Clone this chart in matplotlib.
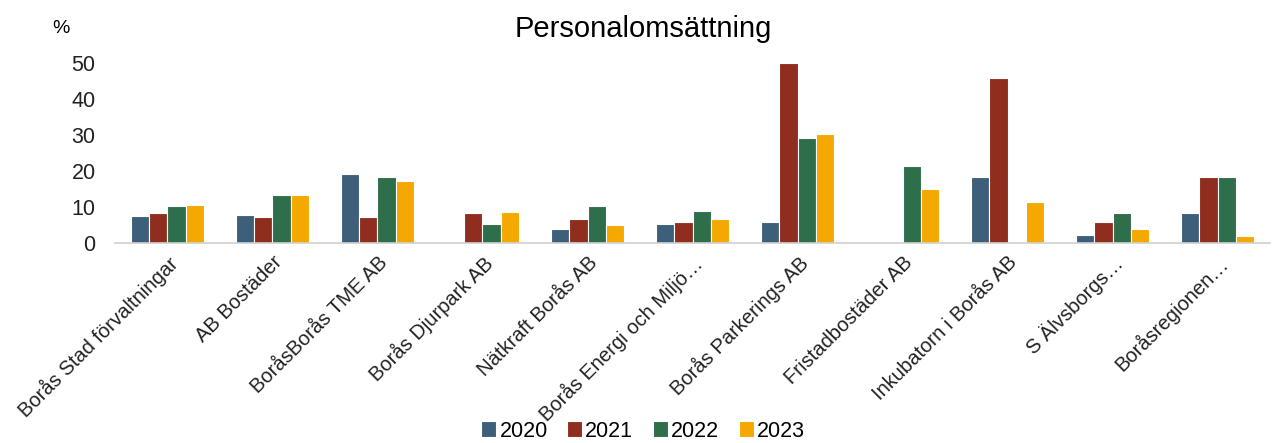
import numpy as np
import matplotlib.pyplot as plt

plt.rcParams['font.family'] = ['Liberation Sans', 'DejaVu Sans']

categories = [
    "Borås Stad förvaltningar", "AB Bostäder", "BoråsBorås TME AB",
    "Borås Djurpark AB", "Nätkraft Borås AB", "Borås Energi och Miljö…",
    "Borås Parkerings AB", "Fristadbostäder AB", "Inkubatorn i Borås AB",
    "S Älvsborgs…", "Boråsregionen…",
]
years = ["2020", "2021", "2022", "2023"]
v2020 = [7.4, 7.9, 19.2, 0, 3.9, 5.4, 5.9, 0, 18.2, 2.3, 8.2]
v2021 = [8.3, 7.1, 7.1, 8.2, 6.6, 5.9, 50.0, 0, 45.8, 5.9, 18.2]
v2022 = [10.2, 13.3, 18.4, 5.4, 10.4, 8.9, 29.1, 21.3, 0, 8.2, 18.2]
v2023 = [10.6, 13.3, 17.3, 8.5, 5.1, 6.6, 30.3, 15.1, 11.3, 3.9, 1.9]
colors = ["#3E5F7A", "#8F2E1E", "#2E6E4A", "#F5A800"]

fig = plt.figure(figsize=(12.86, 4.43), dpi=100)
ax = fig.add_axes([0.0894, 0.4515, 0.8982, 0.4065])

x = np.arange(len(categories))
w = 0.172
for i, (vals, c, lab) in enumerate(zip([v2020, v2021, v2022, v2023], colors, years)):
    ax.bar(x + (i - 1.5) * w, vals, w, color=c, edgecolor="white", linewidth=0.8, label=lab)

ax.set_xlim(-0.5, len(categories) - 0.5)
ax.set_ylim(0, 50)
ax.set_yticks([0, 10, 20, 30, 40, 50])
ax.tick_params(axis="y", length=0, labelsize=15.5, pad=14, labelcolor="#222222")
ax.tick_params(axis="x", length=0, labelsize=14.5, pad=7, labelcolor="#222222")
ax.set_xticks(x)
ax.set_xticklabels(categories, rotation=45, ha="right", rotation_mode="anchor")
for s in ["top", "right", "left"]:
    ax.spines[s].set_visible(False)
ax.spines["bottom"].set_color("#D0D0D0")
ax.spines["bottom"].set_linewidth(1.2)

fig.text(0.5, 0.935, "Personalomsättning", ha="center", va="center", fontsize=21)
fig.text(0.047, 0.935, "%", ha="center", va="center", fontsize=14)

fig.legend(loc="center", bbox_to_anchor=(0.5, 0.027), ncol=4, frameon=False,
           fontsize=15.5, handlelength=0.7, handleheight=0.7, handletextpad=0.15,
           columnspacing=0.9)

fig.savefig("out.png", dpi=100)
